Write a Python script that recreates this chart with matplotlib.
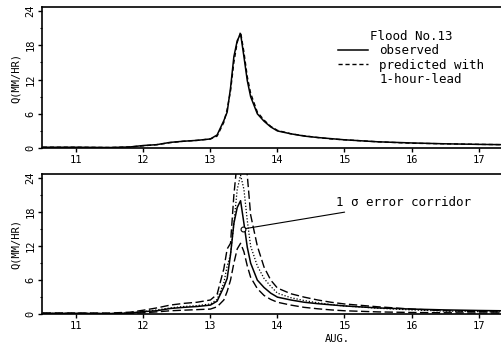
import matplotlib
matplotlib.use("Agg")
import matplotlib.pyplot as plt
from matplotlib.lines import Line2D

plt.rcParams["font.family"] = ["DejaVu Sans Mono"]

# time in days of August
t = [10.5, 11.0, 11.5, 11.8, 12.0, 12.2, 12.4, 12.6, 12.8, 13.0, 13.1, 13.2,
     13.25, 13.3, 13.35, 13.4, 13.45, 13.5, 13.55, 13.6, 13.7, 13.8, 13.9,
     14.0, 14.2, 14.4, 14.6, 14.8, 15.0, 15.5, 16.0, 16.5, 17.0, 17.35]

observed = [0.15, 0.15, 0.1, 0.2, 0.45, 0.6, 1.0, 1.2, 1.35, 1.6, 2.3, 4.8,
            6.3, 10.5, 16.0, 18.8, 20.0, 16.0, 11.8, 9.0, 6.0, 4.7, 3.7,
            3.0, 2.5, 2.1, 1.85, 1.65, 1.45, 1.1, 0.9, 0.75, 0.65, 0.6]

predicted = [0.15, 0.15, 0.1, 0.2, 0.4, 0.6, 0.95, 1.2, 1.35, 1.6, 2.1, 4.5,
             6.8, 10.0, 15.0, 18.5, 20.3, 16.8, 12.5, 9.6, 6.3, 4.9, 3.8,
             3.1, 2.5, 2.15, 1.85, 1.6, 1.45, 1.1, 0.85, 0.75, 0.65, 0.6]

# bottom panel: forecast with 1 sigma corridor
pred_mean = [0.15, 0.15, 0.12, 0.22, 0.45, 0.75, 1.1, 1.35, 1.5, 1.8, 2.6, 5.5,
             8.5, 10.5, 16.0, 22.0, 24.5, 22.0, 16.5, 12.0, 8.5, 6.3, 4.9,
             3.7, 2.9, 2.4, 2.0, 1.7, 1.45, 1.05, 0.75, 0.55, 0.45, 0.4]

upper = [0.2, 0.2, 0.2, 0.35, 0.7, 1.1, 1.6, 1.9, 2.1, 2.5, 3.5, 8.0,
         11.5, 12.5, 21.0, 27.0, 30.0, 28.0, 24.5, 17.5, 12.0, 8.3, 6.0,
         4.6, 3.6, 3.0, 2.5, 2.1, 1.8, 1.3, 0.9, 0.6, 0.45, 0.4]

lower = [0.1, 0.1, 0.05, 0.1, 0.25, 0.4, 0.6, 0.7, 0.8, 0.9, 1.3, 2.5,
         4.0, 6.0, 9.0, 11.5, 12.5, 11.0, 8.5, 6.5, 4.5, 3.3, 2.6,
         2.1, 1.6, 1.2, 0.95, 0.75, 0.6, 0.4, 0.3, 0.25, 0.2, 0.2]

xticks = [11, 12, 13, 14, 15, 16, 17]
yticks = [0, 6, 12, 18, 24]
ann_x, ann_y = 13.48, 15.0


def style_axes(ax):
    ax.set_xlim(10.49, 17.35)
    ax.set_ylim(0, 24.7)
    ax.set_xticks(xticks)
    ax.set_yticks(yticks)
    ax.set_yticks([3, 9, 15, 21], minor=True)
    ax.spines["right"].set_visible(False)
    for s in ["left", "bottom", "top"]:
        ax.spines[s].set_linewidth(1.2)
    ax.tick_params(axis="both", which="major", direction="out", length=3,
                   width=1, labelsize=7.5, pad=2)
    ax.tick_params(axis="y", which="minor", direction="out", length=1.5, width=0.8)
    ax.tick_params(axis="y", labelrotation=90)
    for lbl in ax.get_yticklabels():
        lbl.set_va("center")
    ax.set_ylabel("Q(MM/HR)", fontsize=7.5, labelpad=3)


fig = plt.figure(figsize=(5.02, 3.46), dpi=100)
ax1 = fig.add_axes([0.084, 0.572, 0.916, 0.408])
ax2 = fig.add_axes([0.084, 0.092, 0.916, 0.405])

l_obs, = ax1.plot(t, observed, color="black", lw=1.1)
l_pred, = ax1.plot(t, predicted, color="black", lw=1.0, ls=(0, (3, 2)))
style_axes(ax1)

blank = Line2D([], [], color="none")
ax1.legend([l_obs, l_pred, blank], ["observed", "predicted with", "1-hour-lead"],
           title="Flood No.13", title_fontsize=9, fontsize=9, frameon=False,
           loc="upper left", bbox_to_anchor=(0.63, 0.88), borderpad=0,
           handlelength=2.4, handletextpad=0.9, labelspacing=0.1)

ax2.plot(t, upper, color="black", lw=1.0, ls=(0, (6, 2.5)))
ax2.plot(t, lower, color="black", lw=1.0, ls=(0, (6, 2.5)))
ax2.plot(t, pred_mean, color="black", lw=0.9, ls=(0, (1, 1.5)))
ax2.plot(t, observed, color="black", lw=1.1)
style_axes(ax2)
ax2.plot([ann_x], [ann_y], "o", ms=3.5, mfc="white", mec="black", mew=0.8)
ax2.annotate("1 \u03c3 error corridor", xy=(ann_x, ann_y), xytext=(14.87, 19.7),
             fontsize=9, ha="left", va="center",
             arrowprops=dict(arrowstyle="-", lw=0.8, color="black",
                             shrinkA=2, shrinkB=2))
ax2.set_xlabel("AUG.", fontsize=7.5, x=0.641, labelpad=2)

fig.savefig("out.png", dpi=100)
